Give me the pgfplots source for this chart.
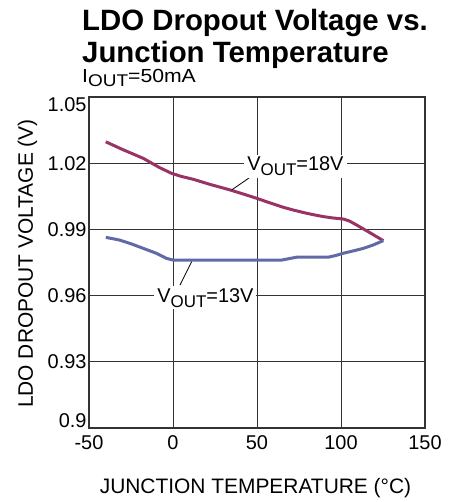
\documentclass[border=0pt]{standalone}
\usepackage{fontspec}
\setmainfont{Liberation Sans}
\usepackage{pgfplots}
\pgfplotsset{compat=1.18}
\definecolor{redline}{HTML}{993366}
\definecolor{blueline}{HTML}{6169A6}
\definecolor{gridgray}{HTML}{333333}
\begin{document}
\begin{tikzpicture}
\useasboundingbox (0,-502bp) rectangle (449bp,0);
\node[anchor=base west, inner sep=0, font=\fontsize{29.5}{29.5}\selectfont\bfseries] at (82bp,-30bp) {LDO Dropout Voltage vs.};
\node[anchor=base west, inner sep=0, font=\fontsize{29.5}{29.5}\selectfont\bfseries] at (82bp,-62bp) {Junction Temperature};
\node[anchor=base west, inner sep=0, font=\fontsize{19}{19}\selectfont] at (82bp,-82bp) {\scalebox{1.12}[1]{I\raisebox{-4bp}{\fontsize{17}{17}\selectfont OUT}=50mA}};
\begin{axis}[
    at={(89bp,-428bp)}, anchor=south west,
    width=336bp, height=331bp, scale only axis,
    xmin=-50, xmax=150, ymin=0.9, ymax=1.05,
    xtick={-50,0,50,100,150},
    ytick={0.9,0.93,0.96,0.99,1.02,1.05},
    yticklabels={\raisebox{1bp}[0pt][0pt]{0.9},0.93,0.96,0.99,1.02,\raisebox{-14bp}[0pt][0pt]{1.05}},
    xticklabels={-50,0,50,100,150},
    grid=major,
    major grid style={gridgray, line width=0.8bp},
    axis line style={gridgray, line width=2.2bp},
    major tick length=0pt,
    tick label style={font=\fontsize{20}{20}\selectfont},
    xticklabel style={yshift=-4bp},
    yticklabel style={xshift=1bp},
    xlabel={JUNCTION TEMPERATURE (°C)},
    ylabel={LDO DROPOUT VOLTAGE (V)},
    label style={font=\fontsize{21}{21}\selectfont},
    xlabel style={at={(axis description cs:0.4955,-0.1964)}, anchor=base},
    ylabel style={at={(axis description cs:-0.1667,0.497)}, anchor=base},
]
\addplot[redline, line width=3bp] coordinates {
(-40,1.0297) (-30,1.0262) (-17.7,1.0222) (-8,1.0180) (-0.8,1.0154)
(5,1.0140) (12.1,1.0127) (22,1.0104) (33.9,1.0079) (42,1.0060)
(49.8,1.0041) (57,1.0022) (65.7,1.0000) (72,0.9987) (79.6,0.9973)
(84,0.9966) (89.5,0.9958) (95,0.9952) (101.4,0.9947) (105,0.9938)
(109.3,0.9920) (117,0.9886) (125.2,0.9849)};
\addplot[blueline, line width=3bp] coordinates {
(-40,0.9864) (-32,0.9852) (-25,0.9835) (-17,0.9812) (-10,0.9792)
(-4,0.9769) (0,0.9761) (20,0.9761) (40,0.9761) (64.7,0.9761)
(68,0.9766) (73.6,0.9774) (85,0.9774) (92.4,0.9774) (97,0.9782)
(101.4,0.9792) (107,0.9802) (113.3,0.9814) (119,0.9829) (125.2,0.9849)};
\draw[black, line width=0.8bp] (axis cs:47.8,1.01465) -- (axis cs:34.9,1.00786);
\draw[black, line width=0.8bp] (axis cs:4.2,0.9648) -- (axis cs:11.1,0.9754);
\node[anchor=base, fill=white, inner xsep=3bp, inner ysep=2bp, font=\fontsize{20}{20}\selectfont] at (axis cs:72.9,1.0165) {V\raisebox{-5bp}{\fontsize{17}{17}\selectfont OUT}=18V};
\node[anchor=base, fill=white, inner xsep=3bp, inner ysep=2bp, font=\fontsize{20}{20}\selectfont] at (axis cs:19.3,0.9571) {V\raisebox{-5bp}{\fontsize{17}{17}\selectfont OUT}=13V};
\end{axis}
\end{tikzpicture}
\end{document}
